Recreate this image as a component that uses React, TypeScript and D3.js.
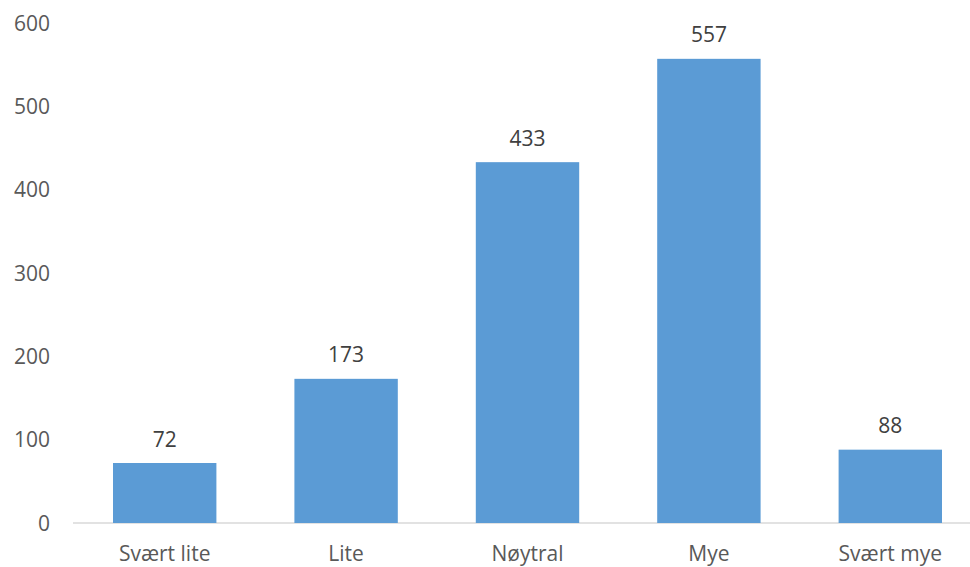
import React from "react";
import * as d3 from "d3";

const categories = ["Svært lite", "Lite", "Nøytral", "Mye", "Svært mye"];
const values = [72, 173, 433, 557, 88];
const yTicks = [0, 100, 200, 300, 400, 500, 600];

const W = 970;
const H = 567;

export default function App() {
  const x = d3.scaleBand<string>().domain(categories).range([74, 981]).paddingInner(0.43).paddingOuter(0.215);
  const y = d3.scaleLinear().domain([0, 600]).range([523, 23]);
  const font = "'Open Sans', Calibri, sans-serif";
  return (
    <svg width={W} height={H} style={{ position: "absolute", left: 0, top: 0, background: "#fff" }}>
      <line x1={73} x2={981} y1={y(0)} y2={y(0)} stroke="#d9d9d9" strokeWidth={1.5} />
      {yTicks.map((t) => (
        <text key={t} x={50} y={y(t)} dy="0.36em" textAnchor="end" fontFamily={font} fontSize={21} fill="#595959">
          {t}
        </text>
      ))}
      {categories.map((c, i) => (
        <g key={c}>
          <rect x={x(c)} y={y(values[i])} width={x.bandwidth()} height={y(0) - y(values[i])} fill="#5b9bd5" />
          <text x={(x(c) as number) + x.bandwidth() / 2} y={y(values[i]) - 24} dy="0.36em" textAnchor="middle" fontFamily={font} fontSize={21} fill="#404040">
            {values[i]}
          </text>
          <text x={(x(c) as number) + x.bandwidth() / 2} y={553} dy="0.36em" textAnchor="middle" fontFamily={font} fontSize={21} fill="#595959">
            {c}
          </text>
        </g>
      ))}
    </svg>
  );
}
